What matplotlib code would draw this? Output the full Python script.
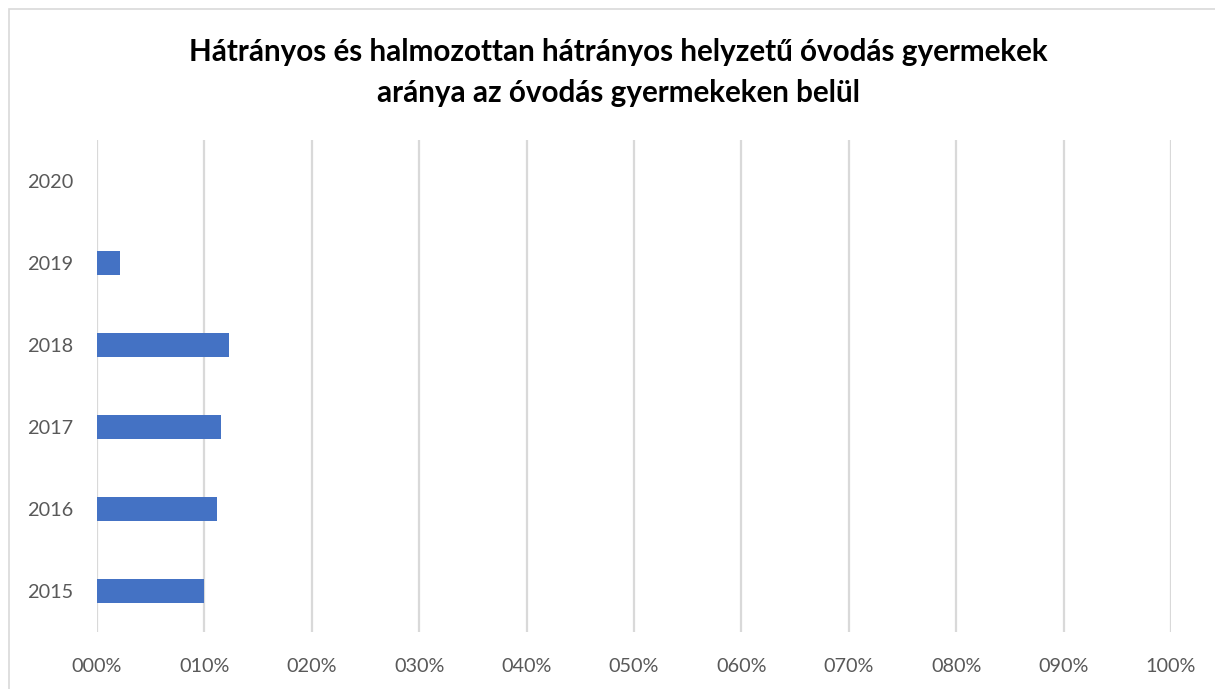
import matplotlib.pyplot as plt
from matplotlib.patches import Rectangle
from matplotlib.ticker import FuncFormatter

years = ['2015', '2016', '2017', '2018', '2019', '2020']
shares = [0.100, 0.112, 0.115, 0.123, 0.0215, 0.0]
xticks = [i / 10 for i in range(11)]

plt.rcParams['font.family'] = 'Lato'

fig = plt.figure(figsize=(12.15, 6.89), dpi=100)
ax = fig.add_axes([97/1215, 1 - 632/689, (1171-97)/1215, (632-140)/689])

ax.barh(years, shares, height=0.3, color='#4472C4', zorder=3)

ax.set_xlim(0, 1)
ax.set_ylim(-0.5, 5.5)
ax.set_xticks(xticks)
ax.xaxis.set_major_formatter(FuncFormatter(lambda v, p: '%03d%%' % round(v * 100)))
ax.grid(axis='x', color='#D9D9D9', lw=1.6, zorder=0)
ax.tick_params(length=0, labelsize=14.3, colors='#595959')
ax.tick_params(axis='y', pad=17)
ax.tick_params(axis='x', pad=19)
for s in ax.spines.values():
    s.set_visible(False)

fig.text(0.509, 1 - 52/689, 'Hátrányos és halmozottan hátrányos helyzetű óvodás gyermekek',
         ha='center', va='center', fontsize=21.3, fontweight='bold', color='black')
fig.text(0.509, 1 - 93/689, 'aránya az óvodás gyermekeken belül',
         ha='center', va='center', fontsize=21.3, fontweight='bold', color='black')

# outer chart frame
fig.patches.append(Rectangle((9/1215, -0.05), 1.2, 1.05 - 9/689, transform=fig.transFigure,
                             fill=False, edgecolor='#D9D9D9', lw=1.2))

fig.savefig('out.png', dpi=100)
